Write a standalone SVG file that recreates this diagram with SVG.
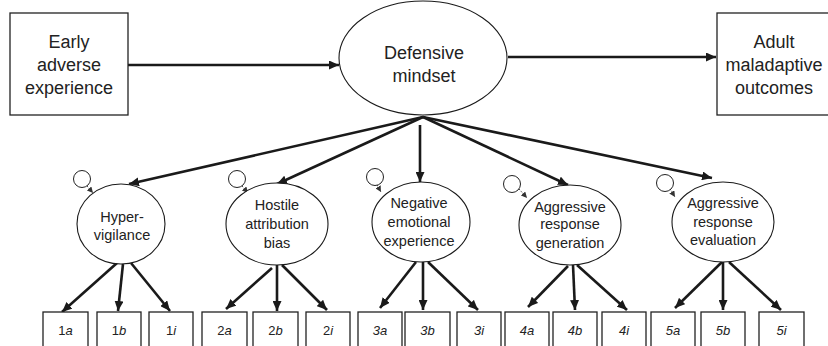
<svg xmlns="http://www.w3.org/2000/svg" width="828" height="346" viewBox="0 0 828 346">
<defs>
<marker id="ah" markerUnits="userSpaceOnUse" markerWidth="11" markerHeight="9" refX="10" refY="4.5" orient="auto"><path d="M0,0 L10,4.5 L0,9 z" fill="#1a1a1a"/></marker>
<marker id="sh" markerUnits="userSpaceOnUse" markerWidth="7" markerHeight="6" refX="6" refY="3" orient="auto"><path d="M0,0 L6,3 L0,6 z" fill="#333"/></marker>
<style>
.box{fill:#fff;stroke:#222;stroke-width:1.3}
.ell{fill:#fff;stroke:#1a1a1a;stroke-width:1.1}
.res{fill:#fff;stroke:#222;stroke-width:1}
.big{font-family:"Liberation Sans",Arial,sans-serif;font-size:18px;fill:#222;text-anchor:middle}
.mid{font-family:"Liberation Sans",Arial,sans-serif;font-size:14.5px;fill:#222;text-anchor:middle}
.sm{font-family:"Liberation Sans",Arial,sans-serif;font-size:13px;fill:#222;text-anchor:middle}
.it{font-style:italic}
.a{stroke:#1a1a1a;stroke-width:2.6;fill:none;marker-end:url(#ah)}
.d{stroke:#444;stroke-width:1;stroke-dasharray:1.5 1.5;fill:none;marker-end:url(#sh)}
</style>
</defs>
<g id="connectors">
<line class="a" x1="128" y1="65" x2="339" y2="65"/>
<line class="a" x1="508" y1="57" x2="716" y2="57"/>
<line class="a" x1="423" y1="117" x2="129" y2="184"/>
<line class="a" x1="423" y1="117" x2="277" y2="184"/>
<line class="a" x1="420" y1="125" x2="420" y2="182"/>
<line class="a" x1="423" y1="117" x2="568" y2="185"/>
<line class="a" x1="423" y1="117" x2="712" y2="178"/>
<line class="d" x1="87" y1="186" x2="93" y2="193"/>
<line class="d" x1="242" y1="186" x2="248" y2="193"/>
<line class="d" x1="377" y1="185" x2="381" y2="192"/>
<line class="d" x1="519" y1="189" x2="527" y2="198"/>
<line class="d" x1="670" y1="189" x2="675" y2="197"/>
<line class="a" x1="117" y1="263" x2="62" y2="312"/>
<line class="a" x1="123" y1="264" x2="118" y2="311"/>
<line class="a" x1="131" y1="263" x2="170" y2="311"/>
<line class="a" x1="272" y1="268" x2="226" y2="309"/>
<line class="a" x1="277" y1="265" x2="277" y2="311"/>
<line class="a" x1="282" y1="265" x2="327" y2="310"/>
<line class="a" x1="416" y1="262" x2="380" y2="308"/>
<line class="a" x1="423" y1="262" x2="423" y2="310"/>
<line class="a" x1="428" y1="262" x2="478" y2="310"/>
<line class="a" x1="568" y1="266" x2="528" y2="307"/>
<line class="a" x1="573" y1="265" x2="575" y2="310"/>
<line class="a" x1="577" y1="265" x2="627" y2="310"/>
<line class="a" x1="722" y1="262" x2="675" y2="308"/>
<line class="a" x1="723" y1="262" x2="723" y2="310"/>
<line class="a" x1="729" y1="262" x2="781" y2="310"/>
</g>
<g id="early"><rect class="box" x="10" y="13" width="118" height="102"/><text class="big" x="69" y="48">Early</text><text class="big" x="69" y="71">adverse</text><text class="big" x="69" y="94">experience</text></g>
<g id="defensive"><ellipse class="ell" cx="423" cy="58" rx="84" ry="57"/><text class="big" x="424" y="59">Defensive</text><text class="big" x="424" y="82">mindset</text></g>
<g id="adult"><rect class="box" x="717" y="13" width="112" height="102"/><text class="big" x="774" y="48">Adult</text><text class="big" x="774" y="71">maladaptive</text><text class="big" x="774" y="94">outcomes</text></g>
<g id="hyper"><circle class="res" cx="82" cy="179" r="8.5"/><ellipse class="ell" cx="121" cy="224" rx="44" ry="40"/><text class="mid" x="122" y="222">Hyper-</text><text class="mid" x="122" y="240">vigilance</text></g>
<g id="hostile"><circle class="res" cx="237" cy="179" r="8.5"/><ellipse class="ell" cx="277" cy="224" rx="51" ry="41"/><text class="mid" x="277" y="210">Hostile</text><text class="mid" x="277" y="229">attribution</text><text class="mid" x="277" y="248">bias</text></g>
<g id="negative"><circle class="res" cx="375" cy="177" r="8.5"/><ellipse class="ell" cx="421" cy="222" rx="49" ry="40"/><text class="mid" x="419" y="208">Negative</text><text class="mid" x="419" y="227">emotional</text><text class="mid" x="419" y="246">experience</text></g>
<g id="generation"><circle class="res" cx="512" cy="184" r="8.5"/><ellipse class="ell" cx="570" cy="225" rx="51" ry="40"/><text class="mid" x="570" y="212">Aggressive</text><text class="mid" x="570" y="229">response</text><text class="mid" x="570" y="248">generation</text></g>
<g id="evaluation"><circle class="res" cx="665" cy="183" r="8.5"/><ellipse class="ell" cx="723" cy="222" rx="51" ry="40"/><text class="mid" x="723" y="208">Aggressive</text><text class="mid" x="723" y="227">response</text><text class="mid" x="723" y="245">evaluation</text></g>
<g id="i1a"><rect class="box" x="43" y="312" width="45" height="40"/><text class="sm" x="65.5" y="335">1<tspan class="it">a</tspan></text></g>
<g id="i1b"><rect class="box" x="97" y="312" width="44" height="40"/><text class="sm" x="119" y="335">1<tspan class="it">b</tspan></text></g>
<g id="i1i"><rect class="box" x="149" y="312" width="44" height="40"/><text class="sm" x="171" y="335">1<tspan class="it">i</tspan></text></g>
<g id="i2a"><rect class="box" x="202" y="312" width="45" height="40"/><text class="sm" x="224.5" y="335">2<tspan class="it">a</tspan></text></g>
<g id="i2b"><rect class="box" x="253" y="312" width="45" height="40"/><text class="sm" x="275.5" y="335">2<tspan class="it">b</tspan></text></g>
<g id="i2i"><rect class="box" x="306" y="312" width="44" height="40"/><text class="sm" x="328" y="335">2<tspan class="it">i</tspan></text></g>
<g id="i3a"><rect class="box" x="358" y="312" width="44" height="40"/><text class="sm it" x="380" y="335">3a</text></g>
<g id="i3b"><rect class="box" x="405" y="312" width="45" height="40"/><text class="sm it" x="427.5" y="335">3b</text></g>
<g id="i3i"><rect class="box" x="457" y="312" width="44" height="40"/><text class="sm it" x="479" y="335">3i</text></g>
<g id="i4a"><rect class="box" x="505" y="312" width="44" height="40"/><text class="sm it" x="527" y="335">4a</text></g>
<g id="i4b"><rect class="box" x="553" y="312" width="44" height="40"/><text class="sm it" x="575" y="335">4b</text></g>
<g id="i4i"><rect class="box" x="602" y="312" width="44" height="40"/><text class="sm it" x="624" y="335">4i</text></g>
<g id="i5a"><rect class="box" x="651" y="312" width="44" height="40"/><text class="sm it" x="673" y="335">5a</text></g>
<g id="i5b"><rect class="box" x="701" y="312" width="44" height="40"/><text class="sm it" x="723" y="335">5b</text></g>
<g id="i5i"><rect class="box" x="759" y="312" width="45" height="40"/><text class="sm it" x="781.5" y="335">5i</text></g>
</svg>
